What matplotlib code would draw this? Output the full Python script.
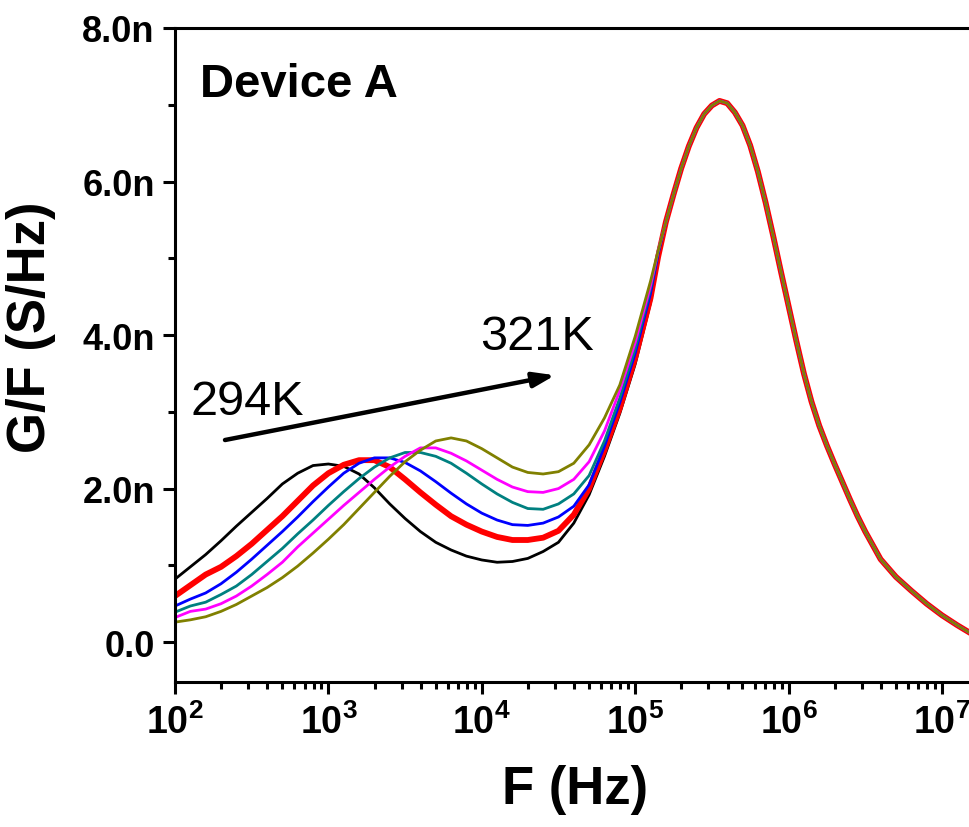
import matplotlib
matplotlib.use("Agg")
import matplotlib.pyplot as plt
import numpy as np
from matplotlib.ticker import FixedLocator, FuncFormatter, LogLocator, MultipleLocator

# log10 of frequency, low-frequency part (curves differ) and peak part (shared)
logf_low = [2.0, 2.1, 2.2, 2.3, 2.4, 2.5, 2.6, 2.7, 2.8, 2.9,
            3.0, 3.1, 3.2, 3.3, 3.4, 3.5, 3.6, 3.7, 3.8, 3.9,
            4.0, 4.1, 4.2, 4.3, 4.4, 4.5, 4.6, 4.7, 4.8, 4.9,
            5.0, 5.1, 5.15]
logf_peak = [5.2, 5.25, 5.3, 5.35, 5.4, 5.45, 5.5, 5.55, 5.6, 5.65,
             5.7, 5.75, 5.8, 5.85, 5.9, 5.95, 6.0, 6.05, 6.1, 6.15,
             6.2, 6.25, 6.3, 6.35, 6.4, 6.45, 6.5, 6.6, 6.7, 6.8,
             6.9, 7.0, 7.1, 7.2]

# G/F in nS/Hz
g_294 = [0.82, 0.98, 1.14, 1.32, 1.51, 1.69, 1.87, 2.06, 2.20, 2.30,
         2.32, 2.29, 2.19, 2.01, 1.80, 1.61, 1.44, 1.30, 1.20, 1.12,
         1.07, 1.04, 1.05, 1.09, 1.18, 1.30, 1.55, 1.92, 2.42, 2.98,
         3.62, 4.42, 4.98]
g_red = [0.60, 0.74, 0.88, 0.98, 1.12, 1.28, 1.46, 1.64, 1.84, 2.04,
         2.20, 2.31, 2.37, 2.37, 2.28, 2.12, 1.95, 1.79, 1.64, 1.53,
         1.44, 1.37, 1.33, 1.33, 1.36, 1.45, 1.66, 2.00, 2.50, 3.05,
         3.70, 4.48, 5.02]
g_blue = [0.47, 0.56, 0.64, 0.76, 0.91, 1.08, 1.26, 1.44, 1.63, 1.83,
          2.02, 2.20, 2.33, 2.40, 2.40, 2.34, 2.23, 2.09, 1.94, 1.80,
          1.68, 1.59, 1.53, 1.52, 1.55, 1.63, 1.77, 2.05, 2.55, 3.12,
          3.76, 4.54, 5.06]
g_teal = [0.39, 0.47, 0.52, 0.62, 0.73, 0.88, 1.05, 1.22, 1.41, 1.59,
          1.78, 1.96, 2.13, 2.28, 2.40, 2.47, 2.47, 2.42, 2.33, 2.20,
          2.06, 1.93, 1.82, 1.74, 1.73, 1.80, 1.93, 2.17, 2.62, 3.18,
          3.82, 4.60, 5.09]
g_mag = [0.32, 0.40, 0.43, 0.50, 0.60, 0.73, 0.88, 1.04, 1.24, 1.42,
         1.60, 1.78, 1.95, 2.12, 2.28, 2.42, 2.53, 2.53, 2.46, 2.36,
         2.24, 2.12, 2.02, 1.96, 1.95, 2.00, 2.12, 2.35, 2.75, 3.28,
         3.90, 4.64, 5.10]
g_321 = [0.26, 0.29, 0.33, 0.40, 0.49, 0.60, 0.71, 0.84, 0.99, 1.16,
         1.34, 1.53, 1.74, 1.95, 2.16, 2.35, 2.50, 2.62, 2.66, 2.62,
         2.52, 2.40, 2.28, 2.21, 2.19, 2.22, 2.33, 2.57, 2.92, 3.35,
         3.98, 4.70, 5.10]
g_peak = [5.47, 5.83, 6.17, 6.46, 6.70, 6.88, 6.99, 7.05, 7.02, 6.90,
          6.73, 6.47, 6.13, 5.73, 5.29, 4.83, 4.38, 3.93, 3.50, 3.13,
          2.82, 2.56, 2.32, 2.09, 1.86, 1.64, 1.44, 1.08, 0.85, 0.67,
          0.50, 0.35, 0.22, 0.10]

curves = [g_294, g_red, g_blue, g_teal, g_mag, g_321]
colors = ['#000000', '#ff0000', '#0000ff', '#008080', '#ff00ff', '#808000']
widths = [2.0, 4.2, 2.0, 2.0, 2.0, 2.0]

x_ticks = [1e2, 1e3, 1e4, 1e5, 1e6, 1e7]
x_labels = ['$10^{2}$', '$10^{3}$', '$10^{4}$', '$10^{5}$', '$10^{6}$', '$10^{7}$']

plt.rcParams['font.family'] = ['Liberation Sans', 'DejaVu Sans']
plt.rcParams['mathtext.fontset'] = 'custom'
plt.rcParams['mathtext.rm'] = 'Liberation Sans:bold'
plt.rcParams['mathtext.it'] = 'Liberation Sans:bold'
plt.rcParams['mathtext.bf'] = 'Liberation Sans:bold'

fig = plt.figure(figsize=(9.7, 8.28), dpi=100)
ax = fig.add_axes([0.1804, 0.1751, 0.8196, 0.7899])

f = 10 ** np.array(logf_low + logf_peak)
for g, c, lw in zip(curves, colors, widths):
    ax.plot(f, np.array(g + g_peak) * 1e-9, color=c, lw=lw,
            solid_capstyle='round', solid_joinstyle='round')

ax.set_xscale('log')
ax.set_xlim(1e2, 10 ** 7.183)
ax.set_ylim(-0.52e-9, 8.0e-9)

ax.xaxis.set_major_locator(FixedLocator(x_ticks))
ax.xaxis.set_major_formatter(FuncFormatter(lambda v, p: x_labels[int(round(np.log10(v))) - 2]
                                           if 2 <= round(np.log10(v)) <= 7 else ''))
ax.xaxis.set_minor_locator(LogLocator(base=10, subs=np.arange(2, 10), numticks=20))
ax.yaxis.set_major_locator(MultipleLocator(2e-9))
ax.yaxis.set_minor_locator(MultipleLocator(1e-9))
ax.yaxis.set_major_formatter(FuncFormatter(lambda v, p: '0.0' if abs(v) < 1e-12 else '%.1fn' % (v * 1e9)))

for s in ['left', 'bottom', 'top']:
    ax.spines[s].set_linewidth(2.2)
ax.spines['right'].set_visible(False)

ax.tick_params(axis='both', which='major', direction='out', length=8.5, width=2.2)
ax.tick_params(axis='both', which='minor', direction='out', length=5, width=2.2)
ax.tick_params(axis='y', which='major', labelsize=26, pad=6)
ax.tick_params(axis='x', which='major', labelsize=27, pad=7)
for lab in ax.get_yticklabels():
    lab.set_fontweight('bold')

ax.set_xlabel('F (Hz)', fontsize=38, fontweight='bold')
ax.xaxis.set_label_coords(0.503, -0.125)
ax.set_ylabel('G/F (S/Hz)', fontsize=38, fontweight='bold')
ax.yaxis.set_label_coords(-0.15, 0.544)

ax.text(0.0314, 0.896, 'Device A', transform=ax.transAxes, fontsize=34, fontweight='bold',
        va='baseline', ha='left')
ax.text(0.0189, 0.41, '294K', transform=ax.transAxes, fontsize=35, va='baseline', ha='left')
ax.text(0.384, 0.509, '321K', transform=ax.transAxes, fontsize=35, va='baseline', ha='left')
ax.annotate('', xy=(0.478, 0.469), xytext=(0.0629, 0.370), xycoords='axes fraction',
            arrowprops=dict(arrowstyle='-|>,head_length=1.3,head_width=0.45', lw=3.2,
                            color='black', shrinkA=0, shrinkB=0))

fig.savefig('out.png', dpi=100)
